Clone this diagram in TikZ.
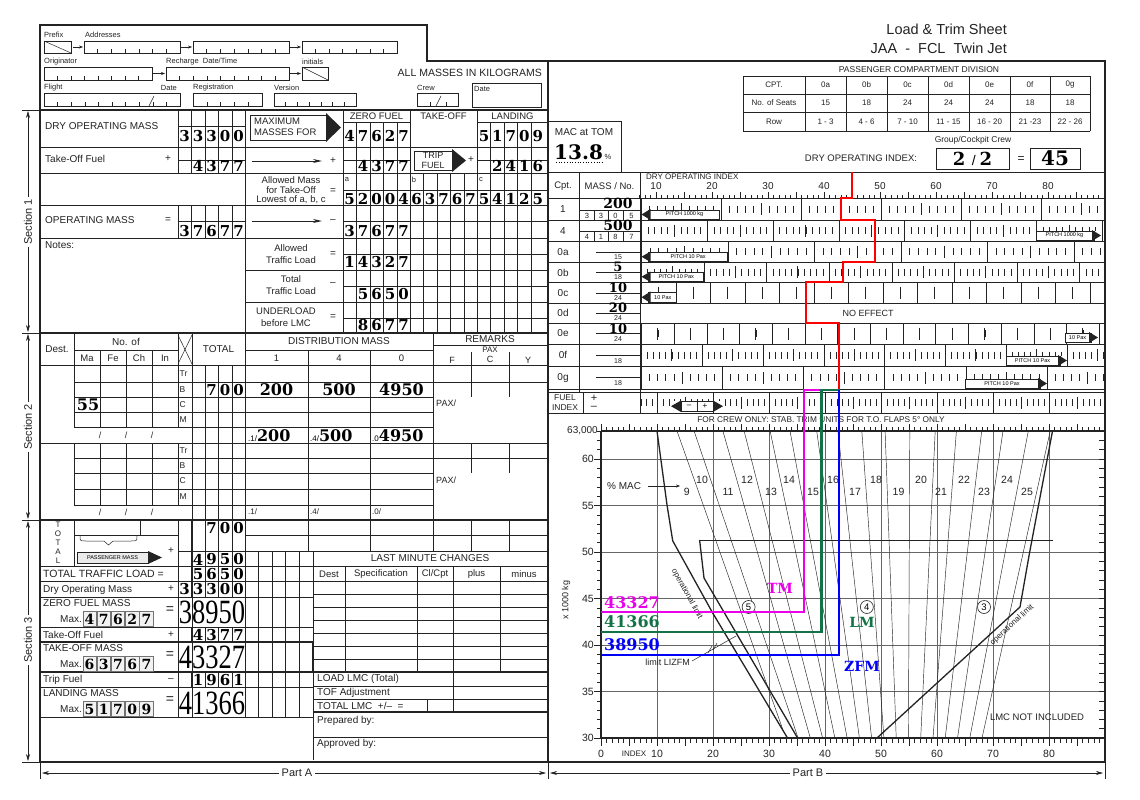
\documentclass[tikz,border=0pt]{standalone}
\usepackage{fontspec}
\usepackage{graphicx}
\setmainfont{Liberation Sans}
\newfontfamily\dfont{DejaVu Serif}
\newfontfamily\sfont{Liberation Serif}
\usetikzlibrary{arrows.meta}
\newcommand\fs[1]{\fontsize{#1}{#1}\selectfont}
\definecolor{tmcol}{RGB}{235,0,235}
\definecolor{lmcol}{RGB}{20,115,70}
\definecolor{zfcol}{RGB}{0,0,250}
\definecolor{trcol}{RGB}{255,0,0}
\definecolor{ink}{RGB}{35,35,35}
\newcommand\cells[3]{\foreach \d [count=\i from 0] in {#3} {\node[dg] at ({#1+13.45*\i},#2) {\d};}}
\newcommand\boxdig[3]{\foreach \d [count=\i from 0] in {#3} {\node[draw=black!55,line width=0.7pt,fill=black!5,minimum width=13.5pt,minimum height=15pt,inner sep=0pt,font=\dfont\bfseries\fs{14}] at ({#1+14.2*\i},#2) {\d};}}
\newcommand\bignum[3]{\node[inner sep=0pt] at (#1,#2) {\scalebox{0.78}[1]{\sfont\fs{34}#3}};}
\newcommand\tbox[5]{\draw[ln] (#1,#2) rectangle (#3,#4); \foreach \k in {1,...,#5} {\draw[ln] ({#1+(#3-#1)*\k/(#5+1)},#4) -- ++(0,-4);}}
\newcommand\tickrow[6]{\begin{scope}\clip (640,#1) rectangle (1105,#2);
 \foreach \k in {0,...,#5} {\pgfmathsetmacro\sx{#3+#4*\k}
  \draw[ln] (\sx,#1) -- (\sx,#2);
  \foreach \j in {1,...,#6} {\draw[ln] ({\sx+#4*\j/(#6+1)},{(#1+#2)/2-3.5}) -- ++(0,7);}
  \draw[line width=0.9pt,ink] ({\sx+#4/2},{(#1+#2)/2-6}) -- ++(0,12);}
 \end{scope}}
\newcommand\pitchL[5]{\fill[white] (#1,#3) rectangle (#2,#4); \draw[ln] ({#1+7},#3) rectangle (#2,#4); \fill[ink] (#1,{(#3+#4)/2}) -- ({#1+9},{#3-1}) -- ({#1+9},{#4+1}) -- cycle; \node[inner sep=0pt,font=\fs{5.5}] at ({(#1+#2)/2+4},{(#3+#4)/2}) {#5};}
\newcommand\pitchR[5]{\fill[white] (#1,#3) rectangle (#2,#4); \draw[ln] (#1,#3) rectangle ({#2-7},#4); \fill[ink] (#2,{(#3+#4)/2}) -- ({#2-9},{#3-1}) -- ({#2-9},{#4+1}) -- cycle; \node[inner sep=0pt,font=\fs{5.5}] at ({(#1+#2)/2-4},{(#3+#4)/2}) {#5};}
\begin{document}
\begin{tikzpicture}[x=1pt,y=-1pt,
 ln/.style={line width=0.5pt,draw=ink},
 md/.style={line width=1.1pt,draw=ink},
 tk/.style={line width=1.9pt,draw=ink},
 lab/.style={inner sep=0pt,font=\fs{10},text=ink},
 sml/.style={inner sep=0pt,font=\fs{7.5},text=ink},
 dg/.style={inner sep=0pt,font=\dfont\bfseries\fs{15},text=black},
 sar/.style={-{Stealth[length=4pt,width=3pt]},line width=0.5pt,draw=ink},
 dar/.style={{Stealth[length=7pt,width=4pt]}-{Stealth[length=7pt,width=4pt]},line width=0.6pt,draw=ink}]
\fill[white] (0,0) rectangle (1140,800);
\useasboundingbox (0,0) rectangle (1140,800);

% ================= PART A HEADER
\node[sml,anchor=west] at (44,35) {Prefix};
\node[sml,anchor=west] at (85,35) {Addresses};
\draw[ln] (44,41) rectangle (71,53); \draw[ln] (44,41) -- (71,53);
\draw[sar] (73,47) -- (83,47);
\tbox{84}{41}{180}{53}{6}
\draw[sar] (181,47) -- (192,47);
\tbox{193}{41}{289}{53}{6}
\draw[sar] (290,47) -- (301,47);
\tbox{302}{41}{397}{53}{6}
\node[sml,anchor=west] at (44,62) {Originator};
\node[sml,anchor=west] at (166,62) {Recharge \ Date/Time};
\node[sml,anchor=west] at (302,62) {initials};
\tbox{44}{67}{152}{80}{7}
\draw[sar] (153,73.5) -- (165,73.5);
\tbox{166}{67}{289}{80}{8}
\draw[sar] (290,73.5) -- (301,73.5);
\draw[ln] (302,67) rectangle (328,80); \draw[ln] (302,67) -- (328,80);
\node[lab,anchor=east,font=\fs{10.5}] at (542,73) {ALL MASSES IN KILOGRAMS};
\node[sml,anchor=west] at (44,88) {Flight};
\node[sml,anchor=east] at (177,88) {Date};
\node[sml,anchor=west] at (193,88) {Registration};
\node[sml,anchor=west] at (274,88) {Version};
\node[sml,anchor=west] at (417,88) {Crew};
\tbox{44}{93}{180}{106}{9}
\draw[ln] (149,106) -- (154,96);
\tbox{193}{93}{262}{106}{4}
\tbox{274}{93}{356}{106}{6}
\draw[ln] (417,93) rectangle (458,106); \draw[ln] (430,106) -- ++(0,-4); \draw[ln] (436,106) -- (441,96); \draw[ln] (446,106) -- ++(0,-4);
\draw[ln] (472,83) rectangle (541,107);
\node[sml,anchor=west] at (474,89) {Date};

% ================= SECTION 1
\draw[md] (40,110) -- (548,110);
\foreach \x in {178,191.5,205,218.5,232} {\draw[ln] (\x,110) -- (\x,173); \draw[ln] (\x,205) -- (\x,238);}
\draw[ln] (245,110) -- (245,717);
\foreach \x in {343,410,477} \draw[ln] (\x,110) -- (\x,333);
\foreach \x in {356.5,370,383.5,397,490.5,504,517.5,531} \draw[ln] (\x,122) -- (\x,333);
\foreach \x in {423.5,437,450.5,464} \draw[ln] (\x,173) -- (\x,333);
\draw[ln] (343,122) -- (410,122); \draw[ln] (477,122) -- (548,122);
\foreach \y in {147,173,205,238} \draw[ln] (40,\y) -- (548,\y);
\foreach \y in {270,302} \draw[ln] (245,\y) -- (548,\y);
\draw[ln] (178,126) -- (245,126);
\draw[ln] (178,160) -- (245,160); \draw[ln] (343,160) -- (410,160); \draw[ln] (477,160) -- (548,160);
\draw[ln] (178,221) -- (245,221);
\foreach \y in {190,221,254,286,318} \draw[ln] (343,\y) -- (548,\y);

\node[lab,anchor=west] at (45,126) {DRY OPERATING MASS};
\draw[ln] (250,115) rectangle (326,140);
\fill[ink] (326,113) -- (341,127.5) -- (326,142) -- cycle;
\node[lab,anchor=west,font=\fs{9.5}] at (254,121) {MAXIMUM};
\node[lab,anchor=west,font=\fs{9.5}] at (254,132) {MASSES FOR};
\node[lab,font=\fs{9.5}] at (376.5,116) {ZERO FUEL};
\node[lab,font=\fs{9.5}] at (443.5,116) {TAKE-OFF};
\node[lab,font=\fs{9.5}] at (512.5,116) {LANDING};
\cells{184.7}{136}{3,3,3,0,0}
\cells{349.7}{136}{4,7,6,2,7}
\cells{484}{136}{5,1,7,0,9}

\node[lab,anchor=west] at (45,159) {Take-Off Fuel};
\node[lab] at (168,159) {+};
\cells{198.15}{166}{4,3,7,7}
\draw[-{Stealth[length=9pt,width=4pt]},line width=1pt,ink] (252,161) -- (322,161);
\node[lab] at (333,161) {+};
\cells{363.15}{166}{4,3,7,7}
\draw[ln] (414,151) rectangle (452,170);
\fill[ink] (452,149) -- (466,160.5) -- (452,172) -- cycle;
\node[lab,font=\fs{9}] at (433,155.5) {TRIP};
\node[lab,font=\fs{9}] at (433,165) {FUEL};
\node[lab] at (471,160) {+};
\cells{497.45}{166}{2,4,1,6}

\node[lab,font=\fs{9.5}] at (291,180) {Allowed Mass};
\node[lab,font=\fs{9.5}] at (291,190) {for Take-Off};
\node[lab,font=\fs{9.5}] at (291,200) {Lowest of a, b, c};
\node[lab] at (333,191) {=};
\node[sml] at (347,180) {a};
\node[sml] at (414,180) {b};
\node[sml] at (481,180) {c};
\cells{349.7}{199}{5,2,0,0,4}
\cells{416.7}{199}{6,3,7,6,7}
\cells{484}{199}{5,4,1,2,5}

\node[lab,anchor=west] at (45,220) {OPERATING MASS};
\node[lab] at (168,220) {=};
\cells{184.7}{231}{3,7,6,7,7}
\draw[-{Stealth[length=9pt,width=4pt]},line width=1pt,ink] (252,221) -- (322,221);
\node[lab] at (333,221) {\textendash};
\cells{349.7}{231}{3,7,6,7,7}
\node[lab,anchor=west] at (45,245) {Notes:};
\node[lab,font=\fs{9.5}] at (291,248) {Allowed};
\node[lab,font=\fs{9.5}] at (291,260) {Traffic Load};
\node[lab] at (333,254) {=};
\cells{349.7}{262}{1,4,3,2,7}
\node[lab,font=\fs{9.5}] at (291,279) {Total};
\node[lab,font=\fs{9.5}] at (291,291) {Traffic Load};
\node[lab] at (333,284) {\textendash};
\cells{363.15}{294}{5,6,5,0}
\node[lab,font=\fs{9.5}] at (286,311) {UNDERLOAD};
\node[lab,font=\fs{9.5}] at (286,323) {before LMC};
\node[lab] at (333,317) {=};
\cells{363.15}{325}{8,6,7,7}

% ================= SECTION 2
\draw[md] (40,333) -- (548,333);
\foreach \y in {365,443} \draw[ln] (40,\y) -- (548,\y);
\draw[md] (40,520) -- (548,520);
\draw[ln] (74,333) -- (74,427); \draw[ln] (74,443) -- (74,505);
\draw[ln] (74,350) -- (178,350);
\foreach \x in {100,126,152} {\draw[ln] (\x,350) -- (\x,427); \draw[ln] (\x,443) -- (\x,505);}
\draw[ln] (178,333) -- (178,427); \draw[ln] (178,443) -- (178,505);
\draw[ln] (178,335) -- (192,364); \draw[ln] (192,335) -- (178,364);
\draw[ln] (192,333) -- (192,717);
\foreach \x in {205,218.5,232} \draw[ln] (\x,365) -- (\x,520);
\draw[ln] (245,350) -- (433,350);
\draw[ln] (308,350) -- (308,551); \draw[ln] (370,350) -- (370,551); \draw[ln] (433,333) -- (433,551);
\draw[ln] (433,345) -- (548,345);
\draw[ln] (471,352) -- (471,397); \draw[ln] (509,352) -- (509,397);
\draw[ln] (471,443) -- (471,473); \draw[ln] (509,443) -- (509,473);
\draw[ln] (471,520) -- (471,551); \draw[ln] (509,520) -- (509,551);
\foreach \y in {382,397,412,427,458,473,489,505} \draw[ln] (74,\y) -- (433,\y);
\draw[ln] (433,382) -- (548,382); \draw[ln] (433,458) -- (548,458);

\node[lab] at (57,349) {Dest.};
\node[lab] at (126,341.5) {No. of};
\foreach \x/\l in {87/Ma,113/Fe,139/Ch,165/In} \node[lab,font=\fs{9.5}] at (\x,358) {\l};
\node[lab] at (218.5,349) {TOTAL};
\node[lab] at (339,341.5) {DISTRIBUTION MASS};
\foreach \x/\l in {276.5/1,339/4,401.5/0} \node[lab,font=\fs{9.5}] at (\x,358) {\l};
\node[lab] at (490,339) {REMARKS};
\node[lab,font=\fs{8}] at (490,350) {PAX};
\node[lab,font=\fs{9}] at (452,360.5) {F};
\node[lab,font=\fs{9}] at (490,359.5) {C};
\node[lab,font=\fs{9}] at (528,360.5) {Y};
\foreach \y/\l in {374/Tr,389.5/B,404.5/C,419.5/M,450.5/Tr,465.5/B,481/C,497/M} \node[lab,font=\fs{8.5},anchor=west] at (179.5,\y) {\l};
\cells{211.65}{390}{7,0,0}
\node[dg,font=\dfont\bfseries\fs{16}] at (276.5,390) {200};
\node[dg,font=\dfont\bfseries\fs{16}] at (339,390) {500};
\node[dg,font=\dfont\bfseries\fs{16}] at (401.5,390) {4950};
\node[dg,font=\dfont\bfseries\fs{16}] at (88,405) {55};
\foreach \x in {100,126,152} {\node[lab,font=\fs{9}] at (\x,435) {/}; \node[lab,font=\fs{9}] at (\x,512) {/};}
\node[anchor=west,inner sep=0pt] at (248,436) {\fs{8}.1/\dfont\bfseries\fs{16}200};
\node[anchor=west,inner sep=0pt] at (310,436) {\fs{8}.4/\dfont\bfseries\fs{16}500};
\node[anchor=west,inner sep=0pt] at (372,436) {\fs{8}.0\dfont\bfseries\fs{16}4950};
\node[lab,font=\fs{8},anchor=west] at (248,512) {.1/};
\node[lab,font=\fs{8},anchor=west] at (310,512) {.4/};
\node[lab,font=\fs{8},anchor=west] at (372,512) {.0/};
\node[lab,font=\fs{9},anchor=west] at (436,403) {PAX/};
\node[lab,font=\fs{9},anchor=west] at (436,480) {PAX/};

% ================= SECTION 3
\foreach \y/\l in {525/T,534/O,543/T,552/A,561/L} \node[lab,font=\fs{8}] at (58,\y) {\l};
\draw[ln] (74,520) -- (74,566);
\draw[ln] (74,535) -- (178,535); \draw[ln] (140,520) -- (140,535);
\draw[ln] (80,536) .. controls (80,541) .. (86,541) -- (104,541) -- (108.5,545) -- (113,541) -- (131,541) .. controls (137,541) .. (137,536);
\draw[ln,fill=black!8] (77,552) rectangle (148,563);
\fill[ink] (148,551) -- (162,557.5) -- (148,564) -- cycle;
\node[inner sep=0pt,font=\fs{5.5}] at (112.5,557.5) {PASSENGER MASS};
\node[lab] at (171,551) {+};
\draw[ln] (178,520) -- (178,717);
\foreach \x in {191.5,205,218.5,232} {\draw[ln] (\x,520) -- (\x,597); \draw[ln] (\x,627) -- (\x,642); \draw[ln] (\x,672) -- (\x,687);}
\foreach \x in {258.5,272,285.5,299} \draw[ln] (\x,551) -- (\x,717);
\draw[ln] (313,551) -- (313,760);
\draw[ln] (245,535) -- (548,535);
\draw[ln] (178,551) -- (548,551);
\foreach \y in {566,581} \draw[ln] (40,\y) -- (548,\y);
\foreach \y in {597,627,687,717} \draw[ln] (40,\y) -- (313,\y);
\draw[md] (40,642) -- (313,642) -- (313,672);
\draw[md] (40,672) -- (548,672);

\node[lab,anchor=west,font=\fs{10.5}] at (43,574) {TOTAL TRAFFIC LOAD =};
\node[lab,anchor=west] at (43,589.5) {Dry Operating Mass};
\node[lab] at (171,589) {+};
\node[lab,anchor=west] at (43,603.5) {ZERO FUEL MASS};
\node[lab,anchor=west] at (60,619) {Max.};
\boxdig{89.6}{619}{4,7,6,2,7}
\node[lab,font=\fs{14}] at (170,610) {=};
\node[lab,anchor=west] at (43,635) {Take-Off Fuel};
\node[lab] at (171,635) {+};
\node[lab,anchor=west] at (43,648.5) {TAKE-OFF MASS};
\node[lab,anchor=west] at (60,664) {Max.};
\boxdig{89.6}{664}{6,3,7,6,7}
\node[lab,font=\fs{14}] at (170,655) {=};
\node[lab,anchor=west] at (43,680) {Trip Fuel};
\node[lab] at (171,680) {\textendash};
\node[lab,anchor=west] at (43,693.5) {LANDING MASS};
\node[lab,anchor=west] at (60,709) {Max.};
\boxdig{89.6}{709}{5,1,7,0,9}
\node[lab,font=\fs{14}] at (170,700) {=};
\cells{211.65}{528}{7,0,0}
\cells{198.15}{559.5}{4,9,5,0}
\cells{198.15}{574}{5,6,5,0}
\cells{184.7}{589.5}{3,3,3,0,0}
\bignum{212}{612.5}{38950}
\cells{198.15}{635}{4,3,7,7}
\bignum{212}{657.5}{43327}
\cells{198.15}{680}{1,9,6,1}
\bignum{212}{703}{41366}

% LMC box
\node[lab] at (430,558.5) {LAST MINUTE CHANGES};
\foreach \x/\l in {329/{Dest},381/{Specification},435/{Cl/Cpt},476.5/{plus},524/{minus}} \node[lab,font=\fs{9.5}] at (\x,574) {\l};
\foreach \x in {345,417,453,500} \draw[ln] (\x,566) -- (\x,672);
\foreach \y in {594,607,620,633,646,659,686,699} \draw[ln] (313,\y) -- (548,\y);
\draw[md] (313,712) -- (548,712);
\draw[ln] (453,672) -- (453,712); \draw[ln] (427,699) -- (427,712);
\node[lab,anchor=west] at (317,679) {LOAD LMC (Total)};
\node[lab,anchor=west] at (317,692.5) {TOF Adjustment};
\node[lab,anchor=west] at (317,705.5) {TOTAL LMC \ +/\textendash \ \ =};
\node[lab,anchor=west] at (317,721) {Prepared by:};
\draw[ln] (313,737) -- (548,737);
\node[lab,anchor=west] at (317,744) {Approved by:};

% section arrows and part arrows
\foreach \y in {110,333,520,762} \draw[ln] (22,\y) -- (40,\y);
\draw[dar] (28,111) -- (28,332);
\node[lab,fill=white,inner sep=2pt,rotate=90,font=\fs{11}] at (28,222) {Section 1};
\draw[dar] (28,334) -- (28,519);
\node[lab,fill=white,inner sep=2pt,rotate=90,font=\fs{11}] at (28,427) {Section 2};
\draw[dar] (28,521) -- (28,761);
\node[lab,fill=white,inner sep=2pt,rotate=90,font=\fs{11}] at (28,640) {Section 3};
\foreach \x in {40,548,1105} \draw[ln] (\x,762) -- (\x,779);
\draw[dar] (42,773) -- (546,773);
\node[lab,fill=white,inner sep=3pt,font=\fs{11}] at (297,773) {Part A};
\draw[dar] (550,773) -- (1103,773);
\node[lab,fill=white,inner sep=3pt,font=\fs{11}] at (808,773) {Part B};

% ================= PART B
\node[anchor=east,inner sep=0pt,font=\fs{14.5},text=ink] at (1007,29) {Load \& Trim Sheet};
\node[anchor=east,inner sep=0pt,font=\fs{14.5},text=ink] at (1007,48) {JAA \ - \ FCL \ Twin Jet};
\node[lab,font=\fs{8.5}] at (919,70) {PASSENGER COMPARTMENT DIVISION};
\foreach \y in {76,94,112,131} \draw[ln] (743,\y) -- (1090,\y);
\foreach \x in {743,805,846,887,928,969,1010,1050,1090} \draw[ln] (\x,76) -- (\x,131);
\foreach \x/\a/\b/\c in {774/CPT./No. of Seats/Row,825.5/0a/15/1 - 3,866.5/0b/18/4 - 6,907.5/0c/24/7 - 10,948.5/0d/24/11 - 15,989.5/0e/24/16 - 20,1030/0f/18/21 -23,1070/0g/18/22 - 26}
 {\node[lab,font=\fs{8}] at (\x,85) {\a}; \node[lab,font=\fs{8}] at (\x,103) {\b}; \node[lab,font=\fs{8}] at (\x,121.5) {\c};}
\draw[ln] (548,121) -- (621,121) -- (621,172);
\node[lab] at (584,132) {MAC at TOM};
\node[anchor=west,inner sep=0pt] at (554,152) {\dfont\bfseries\fs{20}13.8};
\node[sml] at (608,157) {\%};
\draw[dotted,line width=0.7pt] (556,162) -- (603,162);
\node[lab,font=\fs{8.5}] at (973,140) {Group/Cockpit Crew};
\node[lab,font=\fs{9.5}] at (861,158.5) {DRY OPERATING INDEX:};
\draw[ln,line width=0.8pt] (936,148) rectangle (1009,169);
\node[inner sep=0pt] at (972.5,158.5) {\dfont\bfseries\fs{18}2 \normalfont\fs{14}/ \dfont\bfseries\fs{18}2};
\node[lab,font=\fs{12}] at (1021,160) {=};
\draw[ln,line width=0.8pt] (1030,148) rectangle (1080,169);
\node[inner sep=0pt] at (1055,158.5) {\dfont\bfseries\fs{20}45};

% index scale
\foreach \y in {172,198,220,241,262,282,303,323,344,366,389,392,413} \draw[ln] (548,\y) -- (1105,\y);
\draw[ln] (579,172) -- (579,392); \draw[ln] (583,392) -- (583,413); \draw[ln] (640,172) -- (640,413);
\node[lab,font=\fs{9.5}] at (563,186) {Cpt.};
\node[lab,font=\fs{9.5}] at (609.5,186) {MASS / No.};
\node[lab,anchor=west,font=\fs{8}] at (646,177) {DRY OPERATING INDEX};
\foreach \v in {10,20,...,80} \node[lab,font=\fs{10}] at ({600+5.6*\v},186.5) {\v};
\foreach \i in {7,...,89} \draw[ln] ({600+5.6*\i},198) -- ++(0,-3.5);
\foreach \i in {10,15,...,85} \draw[ln] ({600+5.6*\i},198) -- ++(0,-6);
\foreach \y/\l in {209/1,231/4,252/0a,272.5/0b,293/0c,313/0d,333.5/0e,355/0f,378/0g} \node[lab] at (563,\y) {\l};
\node[lab,font=\fs{8.5}] at (565,398) {FUEL};
\node[lab,font=\fs{8.5}] at (565,408) {INDEX};
\node[lab,font=\fs{11}] at (594,398) {+};
\node[lab,font=\fs{11}] at (594,407.5) {\textendash};
% mass / no cells
\draw[ln] (580,210) -- (640,210); \draw[ln] (580,231) -- (640,231);
\foreach \x in {594,608,623} {\draw[ln] (\x,210) -- (\x,220); \draw[ln] (\x,231) -- (\x,241);}
\node[dg,font=\dfont\bfseries\fs{14}] at (618,203.5) {200};
\node[dg,font=\dfont\bfseries\fs{14}] at (618,225) {500};
\foreach \x/\a/\b in {587/3/4,601/3/1,615.5/0/8,631.5/5/7} {\node[sml,font=\fs{7.5}] at (\x,215.5) {\a}; \node[sml,font=\fs{7.5}] at (\x,236.5) {\b};}
\foreach \y in {252,272,293,313,333.5,355,377.5} \draw[ln] (596,\y) -- (640,\y);
\foreach \y/\l in {257.5/15,277.5/18,298.5/24,318.5/24,339/24,361/18,383.5/18} \node[sml,font=\fs{7}] at (618,\y) {\l};
\foreach \y/\l in {267/5,287.5/10,308/20,328.5/10} \node[dg,font=\dfont\bfseries\fs{13}] at (618,\y) {\l};
% tick rows
\tickrow{198}{220}{641.4}{80}{6}{9}
\tickrow{220}{241}{641.4}{65.8}{7}{9}
\tickrow{241}{262}{641.4}{86.5}{5}{9}
\tickrow{262}{282}{641.4}{62.6}{7}{9}
\tickrow{282}{303}{641.4}{34.5}{14}{1}
\tickrow{323}{344}{641.4}{32.7}{15}{1}
\tickrow{344}{366}{641.4}{60.8}{8}{9}
\tickrow{366}{389}{641.4}{81.1}{6}{9}
\tickrow{392}{413}{601.7}{56}{9}{9}
\node[lab,font=\fs{9}] at (868,313) {NO EFFECT};
\pitchL{641.5}{719.5}{210}{219}{PITCH 1000 kg}
\pitchR{1036}{1101}{231}{240}{PITCH 1000 kg}
\pitchL{641.5}{726.8}{252.5}{261}{PITCH 10 Pax}
\pitchL{641.5}{703}{272.5}{281}{PITCH 10 Pax}
\pitchL{641.5}{676}{292.5}{302}{10 Pax}
\pitchR{1065}{1098}{333}{342}{10 Pax}
\pitchR{1006}{1067}{356}{365}{PITCH 10 Pax}
\pitchR{965}{1047}{379}{388}{PITCH 10 Pax}
\fill[white] (671,401) rectangle (723,411.5);
\fill[ink] (671,406.2) -- (681,400.5) -- (681,412) -- cycle;
\fill[ink] (723,406.2) -- (713,400.5) -- (713,412) -- cycle;
\draw[ln] (681,401) rectangle (697,411.5); \draw[ln] (697,401) rectangle (713,411.5);
\node[inner sep=0pt,font=\fs{8}] at (689,406.2) {\textendash};
\node[inner sep=0pt,font=\fs{8}] at (705,406.2) {+};

% ================= CHART
\node[lab,font=\fs{8.3}] at (821,420) {FOR CREW ONLY: STAB. TRIM UNITS FOR T.O. FLAPS 5\textdegree\ ONLY};
\foreach \m in {35,40,...,60} \draw[line width=0.5pt,black!60] (601,{738-9.3*(\m-30)}) -- (1105,{738-9.3*(\m-30)});
\foreach \i in {10,20,...,80} \draw[line width=0.5pt,black!60] ({601+5.6*\i},431) -- ({601+5.6*\i},738);
\draw[md] (601,431) -- (1105,431); \draw[md] (601,738) -- (1105,738); \draw[md] (601,431) -- (601,738);
\foreach \i in {0,...,89} {\draw[ln] ({601+5.6*\i},431) -- ++(0,-4); \draw[ln] ({601+5.6*\i},738) -- ++(0,5);}
\foreach \i in {0,5,...,85} {\draw[ln] ({601+5.6*\i},431) -- ++(0,-7); \draw[ln] ({601+5.6*\i},738) -- ++(0,8);}
\foreach \m in {30,...,63} \draw[ln] (601,{738-9.3*(\m-30)}) -- ++(-4,0);
\foreach \m in {30,35,...,60} \draw[ln] (601,{738-9.3*(\m-30)}) -- ++(-7,0);
\foreach \m in {31,...,62} \draw[ln] (1105,{738-9.3*(\m-30)}) -- ++(-6,0);
\node[lab,anchor=east] at (598,431) {63,000};
\foreach \m in {30,35,...,60} \node[lab,anchor=east,font=\fs{10.5}] at (594,{738-9.3*(\m-30)}) {\m};
\foreach \v in {0,10,...,80} \node[lab,font=\fs{10.5}] at ({601+5.6*\v},754) {\v};
\node[lab,font=\fs{8}] at (634,754) {INDEX};
\node[lab,rotate=90,font=\fs{9}] at (566,600) {x 1000 kg};
% MAC lines
\begin{scope}
\clip (657,431) -- (667.1,505.5) -- (672.7,540.8) -- (712.4,612.5) -- (787.5,738) -- (1105,738) -- (1105,431) -- cycle;
\foreach \a/\b in {677.0/785.8,694.1/798.1,722.9/810.3,744.1/822.6,770.1/834.9,790.0/847.1,816.7/859.4,837.9/871.6,861.8/883.9,885.1/896.2,909.8/908.4,935.2/920.7,956.4/933.0,981.7/945.2,1003.0/957.5,1028.3/969.8,1050.2/982.0}
 \draw[line width=0.45pt,ink] (\a,431) -- (\b,738);
\end{scope}
\foreach \x/\y/\l in {686.8/492/9,702/480/10,728/492/11,747/480/12,771/492/13,789/480/14,813/492/15,833/480/16,855/492/17,876/480/18,898.5/492/19,921/480/20,941/492/21,964/480/22,984/492/23,1007/480/24,1027/492/25}
 \node[lab,font=\fs{10.5}] at (\x,\y) {\l};
% envelope
\draw[line width=1.3pt,ink] (657,431) -- (667.1,505.5) -- (672.7,540.8) -- (712.4,612.5) -- (787.5,738);
\draw[line width=1.3pt,ink] (699.6,540) -- (704,578) -- (797.6,738);
\draw[line width=0.9pt,ink] (699.6,540) -- (1052.7,540);
\draw[line width=1.3pt,ink] (1052.5,431) -- (1029.5,553) -- (1020,607) -- (877,738);
\node[lab,font=\fs{8},rotate=-61] at (687,594) {operational limit};
\node[lab,font=\fs{8},rotate=42.5] at (1012,625) {operational limit};
\foreach \x/\l in {748.6/5,866.8/4,984/3} \node[draw=ink,fill=white,circle,inner sep=0pt,minimum size=13pt,line width=0.6pt,font=\fs{9.5}] at (\x,607) {\l};
\node[lab,anchor=west] at (607,486) {\% MAC};
\draw[sar] (648,486) -- (680,486);
\node[lab,anchor=east,font=\fs{9}] at (690,662.5) {limit LIZFM};
\draw[ln] (692,661) -- (736,636);
\draw[ln] (708,653) -- (712,646); \draw[ln] (713,650) -- (717,643);
\node[lab,font=\fs{9.5}] at (1037,717) {LMC NOT INCLUDED};
% trim lines
\draw[trcol,line width=2pt] (852.3,172) -- (852.3,198) -- (841.4,198) -- (841.4,220) -- (875.2,220) -- (875.2,262) -- (842.5,262) -- (842.5,282) -- (806,282) -- (806,323) -- (838.8,323) -- (838.8,390);
\draw[tmcol,line width=2.2pt] (838.8,390) -- (803.9,390) -- (803.9,612) -- (601,612);
\draw[lmcol,line width=2.2pt] (838.8,390) -- (821.4,390) -- (821.4,632) -- (601,632);
\draw[zfcol,line width=2.2pt] (838.8,390) -- (838.8,655) -- (601,655);
\node[dg,text=tmcol,font=\dfont\bfseries\fs{16}] at (632,602.5) {43327};
\node[dg,text=lmcol,font=\dfont\bfseries\fs{16}] at (632,621.5) {41366};
\node[dg,text=zfcol,font=\dfont\bfseries\fs{16}] at (632,645) {38950};
\node[dg,text=tmcol,font=\dfont\bfseries\fs{14}] at (780,588) {TM};
\node[dg,text=lmcol,font=\dfont\bfseries\fs{14}] at (862,622) {LM};
\node[dg,text=zfcol,font=\dfont\bfseries\fs{14}] at (862,666) {ZFM};

% ================= FRAME
\draw[tk] (40,762) -- (40,25) -- (427,25) -- (427,61) -- (1105,61) -- (1105,762) -- cycle;
\draw[tk] (548,61) -- (548,762);
\end{tikzpicture}
\end{document}
